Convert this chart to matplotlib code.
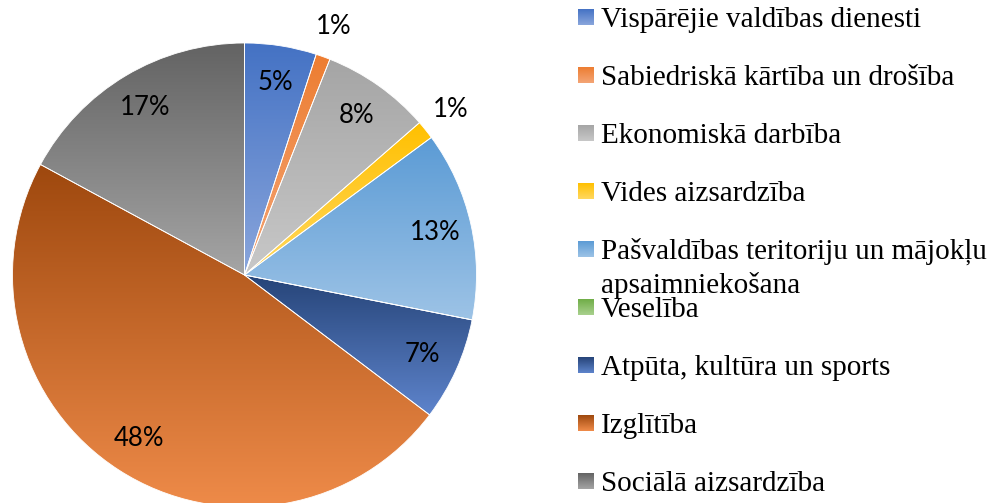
import numpy as np
import matplotlib
matplotlib.use("Agg")
import matplotlib.pyplot as plt
from matplotlib.colors import LinearSegmentedColormap

categories = [
    "Vispārējie valdības dienesti",
    "Sabiedriskā kārtība un drošība",
    "Ekonomiskā darbība",
    "Vides aizsardzība",
    "Pašvaldības teritoriju un mājokļu\napsaimniekošana",
    "Veselība",
    "Atpūta, kultūra un sports",
    "Izglītība",
    "Sociālā aizsardzība",
]
values = [5.0, 1.0, 7.6, 1.3, 13.2, 0.0, 7.2, 47.6, 17.1]
top_colors = ["#4472C4", "#ED7D31", "#A5A5A5", "#FFC000", "#5B9BD5",
              "#70AD47", "#264478", "#9E480E", "#636363"]
bottom_colors = ["#8AA6DC", "#F4A576", "#C8C8C8", "#FFD860", "#9DC3E6",
                 "#A9D18E", "#5E84CC", "#F08C4A", "#A5A5A5"]

W, H = 992, 503
fig = plt.figure(figsize=(W / 100, H / 100), dpi=100)
ax = fig.add_axes([0, 0, 1, 1])

cx, cy, R = 244.5, H - 275, 232

wedges, texts, autotexts = ax.pie(
    values, startangle=90, counterclock=False, center=(cx, cy), radius=R,
    autopct=lambda p: f"{p:.0f}%" if p >= 0.5 else "", pctdistance=0.84,
    wedgeprops=dict(linewidth=0.6, edgecolor="white"),
    textprops=dict(fontsize=18.5, family="Lato", color="black"),
    frame=True,
)
ax.set_xlim(0, W)
ax.set_ylim(0, H)
ax.set_aspect("equal")
ax.axis("off")

grad = np.linspace(0, 1, 256).reshape(-1, 1)
for w, c0, c1 in zip(wedges, top_colors, bottom_colors):
    w.set_facecolor("none")
    verts = w.get_path().vertices
    if len(verts) == 0:
        continue
    x0, x1 = verts[:, 0].min(), verts[:, 0].max()
    y0, y1 = verts[:, 1].min(), verts[:, 1].max()
    if x1 - x0 < 1e-6 or y1 - y0 < 1e-6:
        continue
    cmap = LinearSegmentedColormap.from_list("g", [c0, c1])
    im = ax.imshow(grad, cmap=cmap, extent=(x0, x1, y0, y1), origin="upper",
                   aspect="auto", zorder=0.5, interpolation="bilinear")
    im.set_clip_path(w)

# move labels of tiny slices outside
for w, v, t in zip(wedges, values, autotexts):
    if 0 < v < 2:
        ang = np.deg2rad((w.theta1 + w.theta2) / 2)
        t.set_position((cx + 1.14 * R * np.cos(ang), cy + 1.14 * R * np.sin(ang)))

# legend drawn manually
lx0, lx1 = 578, 594
tx = 601
for i, (lab, c0, c1) in enumerate(zip(categories, top_colors, bottom_colors)):
    yc = 17 + 58 * i
    cmap = LinearSegmentedColormap.from_list("g", [c0, c1])
    ax.imshow(grad, cmap=cmap, extent=(lx0, lx1, H - (yc + 8), H - (yc - 8)),
              origin="upper", aspect="auto", interpolation="bilinear", zorder=2)
    for k, line in enumerate(lab.split("\n")):
        ax.text(tx, H - (yc + 10) - 34 * k, line, fontsize=21,
                family="Liberation Serif", va="baseline", ha="left",
                color="black", zorder=3)

ax.set_xlim(0, W)
ax.set_ylim(0, H)
fig.savefig("out.png", dpi=100)
